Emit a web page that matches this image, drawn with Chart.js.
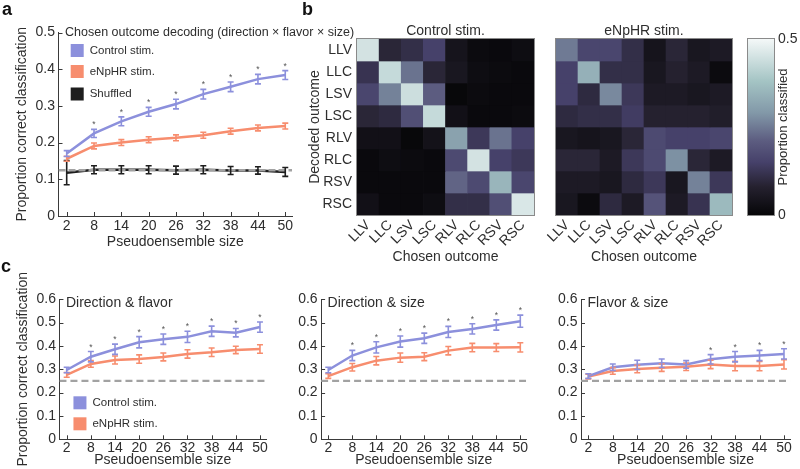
<!DOCTYPE html>
<html>
<head>
<meta charset="utf-8">
<script src="https://cdn.jsdelivr.net/npm/chart.js@4/dist/chart.umd.min.js"></script>
<style>
body { margin: 0; background: #fff; }
#fig { position: relative; width: 800px; height: 469px; overflow: hidden; font-family: "Liberation Sans", Arial, sans-serif; }
canvas { position: absolute; }
.panel { position: absolute; font-weight: bold; font-size: 18px; line-height: 18px; color: #111; }
</style>
</head>
<body>
<div id="fig">
  <canvas id="chartA" width="360" height="256" style="left:0;top:0"></canvas>
  <canvas id="heatControl" width="250" height="266" style="left:290px;top:0"></canvas>
  <canvas id="heatNphr" width="200" height="266" style="left:540px;top:0"></canvas>
  <canvas id="colorbar" width="60" height="266" style="left:740px;top:0"></canvas>
  <canvas id="chartC1" width="275" height="214" style="left:0;top:255px"></canvas>
  <canvas id="chartC2" width="260" height="214" style="left:275px;top:255px"></canvas>
  <canvas id="chartC3" width="265" height="214" style="left:535px;top:255px"></canvas>
  <div class="panel" style="left:2px;top:0">a</div>
  <div class="panel" style="left:302px;top:0">b</div>
  <div class="panel" style="left:1px;top:257px">c</div>
</div>
<script>
// pseudoensemble sizes on every x axis
var xSizes = [2, 8, 14, 20, 26, 32, 38, 44, 50];

// a: chosen outcome decoding (direction x flavor x size)
var aControl = [0.170, 0.225, 0.258, 0.284, 0.305, 0.332, 0.352, 0.373, 0.384];
var aControlErr = [0.008, 0.011, 0.012, 0.012, 0.013, 0.013, 0.013, 0.013, 0.012];
var aNphr = [0.156, 0.191, 0.200, 0.208, 0.213, 0.220, 0.231, 0.240, 0.245];
var aNphrErr = [0.007, 0.008, 0.008, 0.008, 0.008, 0.008, 0.008, 0.008, 0.008];
var aShuffled = [0.118, 0.126, 0.126, 0.126, 0.125, 0.126, 0.124, 0.124, 0.120];
var aShuffledErr = [0.033, 0.011, 0.011, 0.011, 0.011, 0.011, 0.011, 0.010, 0.012];
var aSig = [0, 1, 1, 1, 1, 1, 1, 1, 1];
var aChance = 0.125;

// c: pairs of features
var c1Control = [0.297, 0.354, 0.386, 0.416, 0.429, 0.439, 0.463, 0.457, 0.481];
var c1ControlErr = [0.012, 0.022, 0.022, 0.024, 0.022, 0.024, 0.022, 0.018, 0.022];
var c1Nphr = [0.276, 0.323, 0.340, 0.344, 0.353, 0.366, 0.373, 0.383, 0.387];
var c1NphrErr = [0.010, 0.014, 0.017, 0.018, 0.017, 0.018, 0.018, 0.016, 0.018];
var c1Sig = [0, 1, 1, 1, 1, 1, 1, 1, 1];

var c2Control = [0.297, 0.359, 0.394, 0.419, 0.433, 0.460, 0.473, 0.490, 0.506];
var c2ControlErr = [0.012, 0.022, 0.024, 0.024, 0.022, 0.024, 0.022, 0.022, 0.026];
var c2Nphr = [0.271, 0.309, 0.337, 0.350, 0.354, 0.380, 0.393, 0.393, 0.394];
var c2NphrErr = [0.010, 0.016, 0.018, 0.020, 0.017, 0.018, 0.018, 0.017, 0.020];
var c2Sig = [0, 1, 1, 1, 1, 1, 1, 1, 1];

var c3Control = [0.271, 0.309, 0.319, 0.326, 0.321, 0.343, 0.354, 0.359, 0.366];
var c3ControlErr = [0.010, 0.014, 0.020, 0.018, 0.016, 0.020, 0.022, 0.022, 0.022];
var c3Nphr = [0.269, 0.293, 0.301, 0.307, 0.311, 0.321, 0.314, 0.314, 0.321];
var c3NphrErr = [0.010, 0.014, 0.016, 0.016, 0.016, 0.018, 0.020, 0.020, 0.020];
var c3Sig = [0, 0, 0, 0, 0, 1, 1, 1, 1];
var cChance = 0.25;

// b: confusion matrices, rows = decoded, columns = chosen
var outcomes = ["LLV", "LLC", "LSV", "LSC", "RLV", "RLC", "RSV", "RSC"];
var controlMatrix = [
    [0.45, 0.09, 0.11, 0.15, 0.04, 0.015, 0.01, 0.02],
    [0.12, 0.43, 0.24, 0.09, 0.05, 0.02, 0.015, 0.01],
    [0.16, 0.26, 0.44, 0.21, 0.005, 0.015, 0.01, 0.01],
    [0.09, 0.10, 0.18, 0.43, 0.03, 0.01, 0.01, 0.015],
    [0.03, 0.03, 0.005, 0.035, 0.31, 0.13, 0.24, 0.15],
    [0.01, 0.02, 0.015, 0.01, 0.17, 0.45, 0.15, 0.13],
    [0.01, 0.01, 0.01, 0.01, 0.22, 0.17, 0.35, 0.16],
    [0.03, 0.01, 0.01, 0.02, 0.11, 0.11, 0.18, 0.46]
];
var nphrMatrix = [
    [0.25, 0.16, 0.16, 0.11, 0.04, 0.09, 0.05, 0.06],
    [0.15, 0.34, 0.11, 0.11, 0.05, 0.08, 0.06, 0.015],
    [0.15, 0.10, 0.27, 0.13, 0.06, 0.06, 0.05, 0.06],
    [0.10, 0.11, 0.11, 0.14, 0.08, 0.08, 0.08, 0.07],
    [0.05, 0.04, 0.05, 0.09, 0.17, 0.15, 0.15, 0.16],
    [0.09, 0.09, 0.06, 0.13, 0.17, 0.28, 0.09, 0.06],
    [0.06, 0.06, 0.05, 0.10, 0.13, 0.05, 0.26, 0.13],
    [0.05, 0.015, 0.10, 0.06, 0.19, 0.06, 0.12, 0.36]
];
var cbarTicks = [0, 0.5];

// colour map: value -> colour (black, purple, teal, white)
var cmapStops = [
    [0, "#060608"], [0.08, "#25212f"], [0.15, "#46416a"], [0.21, "#5c5c80"],
    [0.29, "#8298a8"], [0.38, "#a4c4c4"], [0.5, "#f4f8f8"]
];

var BLUE = "#8c90dc", ORANGE = "#f78d6e", BLACK = "#1e1e1e", CHANCE = "#a2a2a2", AXIS = "#3a3a3a", INK = "#2e2e2e";
Chart.defaults.font.family = "'Liberation Sans', Arial, sans-serif";
Chart.defaults.color = INK;

var X_MIN = 0.2, X_MAX = 51.5;

function hexRgb(h) {
    return [parseInt(h.substr(1, 2), 16), parseInt(h.substr(3, 2), 16), parseInt(h.substr(5, 2), 16)];
}
function cmap(v) {
    for (var i = 1; i < cmapStops.length; i++) {
        if (v <= cmapStops[i][0] || i === cmapStops.length - 1) {
            var a = cmapStops[i - 1], b = cmapStops[i];
            var t = Math.max(0, Math.min(1, (v - a[0]) / (b[0] - a[0])));
            var ca = hexRgb(a[1]), cb = hexRgb(b[1]);
            return "rgb(" + ca.map(function (c, k) { return Math.round(c + (cb[k] - c) * t); }).join(",") + ")";
        }
    }
}

function pts(ys) {
    return xSizes.map(function (x, i) { return { x: x, y: ys[i] }; });
}
function series(label, ys, errs, color) {
    return { label: label, data: pts(ys), errors: errs, borderColor: color, backgroundColor: color,
        borderWidth: 2.5, pointRadius: 0, tension: 0 };
}
function chanceLine(value, dash, width) {
    return { label: "chance", data: [{ x: X_MIN, y: value }, { x: X_MAX, y: value }],
        borderColor: CHANCE, borderWidth: width, borderDash: dash, pointRadius: 0 };
}

// error bars, asterisks, inward ticks, title and legend
function decorations(cfg) {
    return {
        id: "decorations",
        afterDatasetsDraw: function (chart) {
            var ctx = chart.ctx, area = chart.chartArea, ys = chart.scales.y, xs = chart.scales.x;
            ctx.save();
            ctx.strokeStyle = AXIS;
            ctx.lineWidth = 1;
            ctx.beginPath();
            ys.ticks.forEach(function (t) {
                var y = Math.round(ys.getPixelForValue(t.value)) + 0.5;
                ctx.moveTo(area.left, y); ctx.lineTo(area.left + 4, y);
            });
            xs.ticks.forEach(function (t) {
                var x = Math.round(xs.getPixelForValue(t.value)) + 0.5;
                ctx.moveTo(x, area.bottom); ctx.lineTo(x, area.bottom - 4);
            });
            ctx.stroke();

            for (var di = chart.data.datasets.length - 1; di >= 0; di--) {
                var ds = chart.data.datasets[di];
                if (!ds.errors) continue;
                var meta = chart.getDatasetMeta(di);
                ctx.strokeStyle = ds.borderColor;
                ctx.lineWidth = 1.6;
                ctx.beginPath();
                meta.data.forEach(function (pt, i) {
                    var y0 = ys.getPixelForValue(ds.data[i].y - ds.errors[i]);
                    var y1 = ys.getPixelForValue(ds.data[i].y + ds.errors[i]);
                    ctx.moveTo(pt.x, y0); ctx.lineTo(pt.x, y1);
                    ctx.moveTo(pt.x - 3, y0); ctx.lineTo(pt.x + 3, y0);
                    ctx.moveTo(pt.x - 3, y1); ctx.lineTo(pt.x + 3, y1);
                });
                ctx.stroke();
            }

            var ref = chart.data.datasets[0];
            ctx.fillStyle = "#555";
            ctx.font = "8.5px " + Chart.defaults.font.family;
            ctx.textAlign = "center";
            ctx.textBaseline = "alphabetic";
            cfg.sig.forEach(function (s, i) {
                if (!s) return;
                var y = ys.getPixelForValue(ref.data[i].y + ref.errors[i]) - 7;
                ctx.fillText("*", xs.getPixelForValue(ref.data[i].x), y + 5);
            });

            ctx.fillStyle = INK;
            ctx.textAlign = "left";
            ctx.textBaseline = "middle";
            ctx.font = cfg.titleSize + "px " + Chart.defaults.font.family;
            ctx.fillText(cfg.title, area.left + cfg.titleDx, area.top + cfg.titleDy);

            ctx.font = "11.5px " + Chart.defaults.font.family;
            cfg.legend.forEach(function (item, i) {
                var cy = area.top + cfg.legendDy[i];
                ctx.fillStyle = item.color;
                ctx.fillRect(area.left + cfg.legendDx, cy - 6.5, 13, 13);
                ctx.fillStyle = INK;
                ctx.fillText(item.label, area.left + cfg.legendDx + 19, cy);
            });
            ctx.restore();
        }
    };
}

function lineChart(id, datasets, cfg) {
    return new Chart(document.getElementById(id), {
        type: "line",
        data: { datasets: datasets },
        options: {
            responsive: false, animation: false, devicePixelRatio: 1,
            layout: { padding: cfg.padding },
            plugins: { legend: { display: false }, tooltip: { enabled: false } },
            scales: {
                x: {
                    type: "linear", min: X_MIN, max: X_MAX,
                    grid: { display: false, drawTicks: false },
                    border: { display: true, color: AXIS, width: 1 },
                    afterBuildTicks: function (s) { s.ticks = xSizes.map(function (v) { return { value: v }; }); },
                    ticks: { padding: cfg.xTickPad, font: { size: 14 }, autoSkip: false, maxRotation: 0 },
                    title: { display: true, text: "Pseudoensemble size", font: { size: 14 }, padding: { top: 0, bottom: cfg.xTitlePad } },
                    afterFit: function (s) { s.height = cfg.xHeight; }
                },
                y: {
                    min: 0, max: cfg.yMax,
                    grid: { display: false, drawTicks: false },
                    border: { display: true, color: AXIS, width: 1 },
                    ticks: {
                        stepSize: cfg.yStep, padding: 3.5, font: { size: 14 },
                        callback: function (v) {
                            var t = Math.round(v * 100);
                            return t % 10 === 0 ? String(t / 100) : "";
                        }
                    },
                    title: { display: cfg.yTitle, text: "Proportion correct classification", font: { size: 14 }, padding: { top: cfg.yTitlePad, bottom: 0 } },
                    afterFit: function (s) { s.width = cfg.yWidth; }
                }
            }
        },
        plugins: [decorations(cfg)]
    });
}

var stimLegend = [{ label: "Control stim.", color: BLUE }, { label: "eNpHR stim.", color: ORANGE }];

lineChart("chartA", [
    series("Control stim.", aControl, aControlErr, BLUE),
    series("eNpHR stim.", aNphr, aNphrErr, ORANGE),
    chanceLine(aChance, [7, 3], 2.5),
    series("Shuffled", aShuffled, aShuffledErr, BLACK)
], {
    padding: { left: 0, top: 32.5, right: 67.9, bottom: 0 },
    yWidth: 58.5, xHeight: 40, yMax: 0.5, yStep: 0.05, yTitle: true, yTitlePad: 13.6,
    xTickPad: 2, xTitlePad: 5,
    sig: aSig, title: "Chosen outcome decoding (direction \u00d7 flavor \u00d7 size)", titleSize: 12.5, titleDx: 6.5, titleDy: 0.5,
    legend: stimLegend.concat([{ label: "Shuffled", color: BLACK }]), legendDx: 12.2, legendDy: [18, 39, 61.5]
});

var cCharts = [
    ["chartC1", c1Control, c1ControlErr, c1Nphr, c1NphrErr, c1Sig, "Direction & flavor", 59.45, 9, true],
    ["chartC2", c2Control, c2ControlErr, c2Nphr, c2NphrErr, c2Sig, "Direction & size", 46.1, 8.7, false],
    ["chartC3", c3Control, c3ControlErr, c3Nphr, c3NphrErr, c3Sig, "Flavor & size", 46, 9.9, false]
];
cCharts.forEach(function (c) {
    lineChart(c[0], [
        series("Control stim.", c[1], c[2], BLUE),
        series("eNpHR stim.", c[3], c[4], ORANGE),
        chanceLine(cChance, [7, 4], 2.2)
    ], {
        padding: { left: 0, top: 44.3, right: c[8], bottom: 0 },
        yWidth: c[7], xHeight: 29.7, yMax: 0.6, yStep: 0.1, yTitle: c[9], yTitlePad: 14.6,
        xTickPad: 0, xTitlePad: 0,
        sig: c[5], title: c[6], titleSize: 14, titleDx: 6.5, titleDy: 4,
        legend: c[9] ? stimLegend : [], legendDx: 14, legendDy: [103.5, 124.5]
    });
});

// heatmaps as floating bars, one dataset per decoded row
function heatFrame(title) {
    return {
        id: "heatFrame",
        afterDraw: function (chart) {
            var ctx = chart.ctx, a = chart.chartArea;
            ctx.save();
            ctx.strokeStyle = "#8a8a8a";
            ctx.lineWidth = 1;
            ctx.strokeRect(Math.round(a.left) - 0.5, Math.round(a.top) - 0.5, Math.round(a.right - a.left) + 1, Math.round(a.bottom - a.top) + 1);
            if (title) {
                ctx.fillStyle = INK;
                ctx.font = "14px " + Chart.defaults.font.family;
                ctx.textAlign = "center";
                ctx.textBaseline = "middle";
                ctx.fillText(title, (a.left + a.right) / 2, a.top - 8);
            }
            ctx.restore();
        }
    };
}

function heatmap(id, values, cfg) {
    return new Chart(document.getElementById(id), {
        type: "bar",
        data: {
            labels: outcomes,
            datasets: outcomes.map(function (name, r) {
                return {
                    label: name,
                    data: outcomes.map(function () { return [r, r + 1]; }),
                    backgroundColor: values[r].map(cmap),
                    borderWidth: 0, grouped: false, barPercentage: 1, categoryPercentage: 1
                };
            })
        },
        options: {
            responsive: false, animation: false, devicePixelRatio: 1,
            layout: { padding: cfg.padding },
            plugins: { legend: { display: false }, tooltip: { enabled: false } },
            scales: {
                x: {
                    grid: { display: false, drawTicks: false }, border: { display: false },
                    ticks: { minRotation: 45, maxRotation: 45, autoSkip: false, padding: 2, font: { size: 14 } },
                    title: { display: true, text: "Chosen outcome", font: { size: 14 }, padding: { top: 0, bottom: 0 } },
                    afterFit: function (s) { s.height = 51; }
                },
                y: {
                    min: 0, max: outcomes.length, reverse: true,
                    grid: { display: false, drawTicks: false }, border: { display: false },
                    afterBuildTicks: function (s) { s.ticks = outcomes.map(function (_, i) { return { value: i + 0.5 }; }); },
                    ticks: { display: cfg.rows, autoSkip: false, padding: 5, font: { size: 14 },
                        callback: function (v) { return outcomes[Math.floor(v)]; } },
                    title: { display: cfg.rows, text: "Decoded outcome", font: { size: 14 }, padding: { top: 16.6, bottom: 0 } },
                    afterFit: function (s) { s.width = cfg.yWidth; }
                }
            }
        },
        plugins: [heatFrame(cfg.title)]
    });
}

heatmap("heatControl", controlMatrix, { padding: { left: 0, top: 39, right: 6, bottom: 0 }, yWidth: 67, rows: true, title: "Control stim." });
heatmap("heatNphr", nphrMatrix, { padding: { left: 0, top: 39, right: 8, bottom: 0 }, yWidth: 16, rows: false, title: "eNpHR stim." });

// colour bar
new Chart(document.getElementById("colorbar"), {
    type: "bar",
    data: {
        labels: [""],
        datasets: [{
            data: [[cbarTicks[0], cbarTicks[1]]],
            borderWidth: 0, barPercentage: 1, categoryPercentage: 1,
            backgroundColor: function (c) {
                var a = c.chart.chartArea;
                if (!a) return "#000";
                var g = c.chart.ctx.createLinearGradient(0, a.bottom, 0, a.top);
                cmapStops.forEach(function (s) { g.addColorStop(s[0] / cbarTicks[1], s[1]); });
                return g;
            }
        }]
    },
    options: {
        responsive: false, animation: false, devicePixelRatio: 1,
        layout: { padding: { left: 7.7, top: 39, right: 0, bottom: 51 } },
        plugins: { legend: { display: false }, tooltip: { enabled: false } },
        scales: {
            x: { display: false },
            y: {
                position: "right", min: cbarTicks[0], max: cbarTicks[1],
                grid: { display: false, drawTicks: false }, border: { display: false },
                afterBuildTicks: function (s) { s.ticks = cbarTicks.map(function (v) { return { value: v }; }); },
                ticks: { padding: 4, font: { size: 14 }, callback: function (v) { return String(v); } },
                afterFit: function (s) { s.width = 26; }
            }
        }
    },
    plugins: [heatFrame(""), {
        id: "cbarTitle",
        afterDraw: function (chart) {
            var ctx = chart.ctx, a = chart.chartArea;
            ctx.save();
            ctx.translate(a.right + 9, (a.top + a.bottom) / 2);
            ctx.rotate(-Math.PI / 2);
            ctx.fillStyle = INK;
            ctx.font = "13px " + Chart.defaults.font.family;
            ctx.textAlign = "center";
            ctx.textBaseline = "middle";
            ctx.fillText("Proportion classified", 0, 0);
            ctx.restore();
        }
    }]
});
</script>
</body>
</html>
